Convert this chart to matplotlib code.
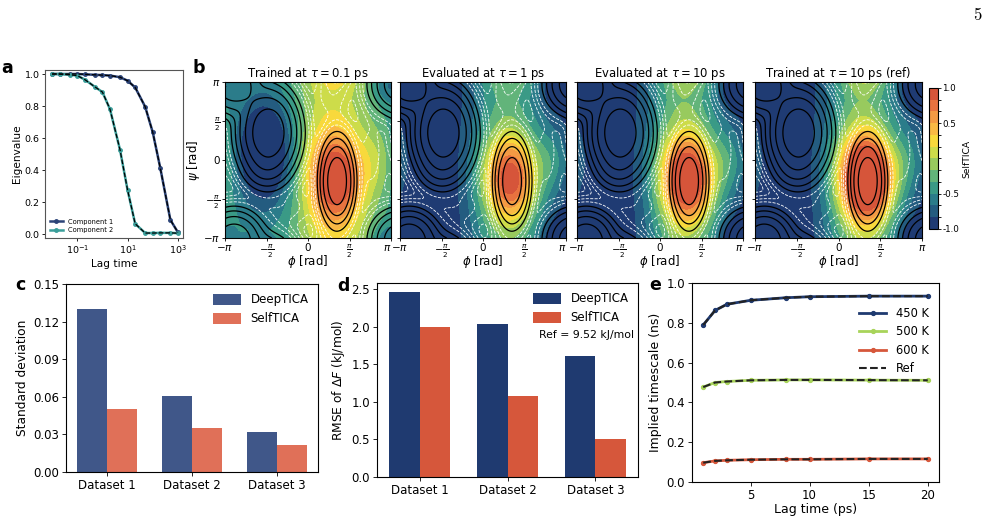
import numpy as np
import matplotlib
matplotlib.use("Agg")
import matplotlib.pyplot as plt
from matplotlib.colors import ListedColormap, BoundaryNorm

# ---------------- data ----------------
# panel a: eigenvalues vs lag time
lag_a = [0.01, 0.02, 0.05, 0.1, 0.2, 0.5, 1, 2, 5, 10, 20, 50, 100, 200, 500, 1000]
comp1 = [1.0, 1.0, 1.0, 1.0, 0.998, 0.995, 0.993, 0.99, 0.98, 0.958, 0.916, 0.795, 0.635, 0.41, 0.088, 0.01]
comp2 = [1.0, 1.0, 0.995, 0.99, 0.965, 0.92, 0.887, 0.78, 0.526, 0.274, 0.064, 0.006, 0.006, 0.007, 0.007, 0.005]

# panel b: free-energy surface (Gaussian wells) and SelfTICA fields (Gaussian bumps)
fe_phi = [-1.5, -2.8, -1.6, 1.1, 0.9, 2.4, -1.0]
fe_psi = [1.1, 3.05, -0.4, -0.85, 2.6, 0.2, -1.9]
fe_sphi = [0.5, 0.5, 0.45, 0.3, 0.4, 0.45, 0.7]
fe_spsi = [0.8, 0.55, 0.45, 0.8, 0.6, 1.6, 0.45]
fe_w = [1.0, 0.45, 0.05, 0.45, 0.004, 0.003, 0.004]
fe_eps = 2e-4

cv_phi = [1.05, 0.9, 2.7, -1.63, 3.0]
cv_psi = [-0.75, 0.0, 0.0, 0.3, 3.0]
cv_sphi = [0.75, 1.0, 0.5, 0.8, 0.4]
cv_spsi = [1.2, 10.0, 1.0, 1.6, 0.5]
cv_base = [-0.4, -1.0, -1.0, -1.0]
cv_amp_1 = [1.1, 0.5, 0.25, -0.9, -0.3]
cv_amp_2 = [1.3, 0.7, 0.35, 0.0, -0.5]
cv_amp_3 = [1.5, 0.8, 0.35, 0.0, -0.5]
cv_amp_4 = [1.9, 0.8, 0.3, 0.0, -0.5]
b_titles = [r"Trained at $\tau = 0.1$ ps", r"Evaluated at $\tau = 1$ ps",
            r"Evaluated at $\tau = 10$ ps", r"Trained at $\tau = 10$ ps (ref)"]

# panel c
datasets = ["Dataset 1", "Dataset 2", "Dataset 3"]
std_deep = [0.130, 0.061, 0.032]
std_self = [0.050, 0.0355, 0.0215]

# panel d
rmse_deep = [2.46, 2.035, 1.61]
rmse_self = [1.995, 1.077, 0.503]

# panel e
lag_e = [1, 2, 3, 5, 8, 10, 15, 20]
ts_450 = [0.789, 0.862, 0.893, 0.913, 0.926, 0.931, 0.934, 0.934]
ts_500 = [0.477, 0.500, 0.505, 0.511, 0.513, 0.513, 0.512, 0.511]
ts_600 = [0.097, 0.106, 0.109, 0.112, 0.114, 0.114, 0.116, 0.116]
ref_450 = [0.789, 0.862, 0.893, 0.913, 0.926, 0.931, 0.934, 0.934]
ref_500 = [0.477, 0.500, 0.505, 0.511, 0.513, 0.513, 0.512, 0.511]
ref_600 = [0.097, 0.106, 0.109, 0.112, 0.114, 0.114, 0.116, 0.116]

# ---------------- styling ----------------
NAVY = "#1f3a70"
RED = "#d6573b"
C_DEEP = "#405789"
C_SELF = "#e07058"
C_COMP1 = "#2c4478"
C_COMP2 = "#3a9e9a"
C_500 = "#a8d45a"
band_colors = ["#1f3b73", "#245c80", "#2b7c8a", "#3a9a86", "#62b47a", "#98ca5e",
               "#cddc4a", "#f8d93c", "#f9b944", "#f39a44", "#e8723f", "#d6553a"]

W, H = 996, 522
fig = plt.figure(figsize=(W / 100, H / 100), dpi=100)


def add_ax(x0, x1, y0, y1):
    return fig.add_axes([x0 / W, 1 - y1 / H, (x1 - x0) / W, (y1 - y0) / H])


# ---------------- panel a ----------------
axa = add_ax(45, 183, 70, 238)
axa.plot(lag_a, comp1, "-o", color=C_COMP1, lw=1.8, ms=2.5, label="Component 1")
axa.plot(lag_a, comp2, "-o", color=C_COMP2, lw=1.8, ms=2.5, label="Component 2")
axa.plot(lag_a, comp1, "--", color="black", lw=0.9)
axa.plot(lag_a, comp2, "--", color="black", lw=0.9)
axa.set_xscale("log")
axa.set_xlim(10 ** -2.28, 10 ** 3.2)
axa.set_ylim(-0.025, 1.025)
axa.set_xticks([0.1, 10, 1000])
axa.set_yticks([0, 0.2, 0.4, 0.6, 0.8, 1.0])
axa.tick_params(labelsize=6.8, length=2.5, width=0.6, pad=1.5)
axa.tick_params(which="minor", length=1.5, width=0.4)
axa.set_ylabel("Eigenvalue", fontsize=7.6, labelpad=2)
axa.set_xlabel("Lag time", fontsize=7.6, labelpad=2)
axa.legend(loc="lower left", fontsize=4.8, frameon=False, handlelength=2.0,
           borderaxespad=0.3, labelspacing=0.4)
for s in axa.spines.values():
    s.set_color("#555555")

# ---------------- panel b ----------------
grid = np.linspace(-np.pi, np.pi, 241)
PHI, PSI = np.meshgrid(grid, grid)


def wrap(d):
    return (d + np.pi) % (2 * np.pi) - np.pi


def gauss(cp, cs, sp, ss):
    return np.exp(-0.5 * (wrap(PHI - cp) / sp) ** 2 - 0.5 * (wrap(PSI - cs) / ss) ** 2)


prob = sum(w * gauss(a, b, c, d) for a, b, c, d, w in zip(fe_phi, fe_psi, fe_sphi, fe_spsi, fe_w))
F = -np.log(prob + fe_eps)
F -= F.min()

cmap = ListedColormap(band_colors)
levels = np.linspace(-1, 1, 13)
norm = BoundaryNorm(levels, cmap.N)

b_x = [(225, 391), (400, 566), (577, 743), (755, 922)]
amps = [cv_amp_1, cv_amp_2, cv_amp_3, cv_amp_4]
pi_ticks = [-np.pi, -np.pi / 2, 0, np.pi / 2, np.pi]
pi_labels = [r"$-\pi$", r"$-\frac{\pi}{2}$", "0", r"$\frac{\pi}{2}$", r"$\pi$"]
cs = None
for i in range(4):
    ax = add_ax(b_x[i][0], b_x[i][1], 82, 238)
    field = cv_base[i] + sum(a * gauss(p, q, r, s) for a, p, q, r, s in
                             zip(amps[i], cv_phi, cv_psi, cv_sphi, cv_spsi))
    field = np.clip(field, -0.999, 0.999)
    cs = ax.contourf(PHI, PSI, field, levels=levels, cmap=cmap, norm=norm)
    ax.contour(PHI, PSI, F, levels=[4.7, 5.3, 5.9, 6.5, 7.1, 7.7], colors="white",
               linewidths=0.6, linestyles="--")
    ax.contour(PHI, PSI, F, levels=[0.7, 1.5, 2.3, 3.1, 3.9], colors="black",
               linewidths=0.9, linestyles="-")
    ax.set_xlim(-np.pi, np.pi)
    ax.set_ylim(-np.pi, np.pi)
    ax.set_xticks(pi_ticks)
    ax.set_xticklabels(pi_labels)
    if i < 3:
        ax.get_xticklabels()[-1].set_horizontalalignment("right")
    ax.set_yticks(pi_ticks)
    if i == 0:
        ax.set_yticklabels(pi_labels)
        ax.set_ylabel(r"$\psi$ [rad]", fontsize=8.5, labelpad=1)
    else:
        ax.set_yticklabels([])
    ax.tick_params(labelsize=7.5, length=2, width=0.6, pad=1.5)
    ax.set_xlabel(r"$\phi$ [rad]", fontsize=8.5, labelpad=-5)
    ax.set_title(b_titles[i], fontsize=8.4, pad=3)

cax = add_ax(929, 938, 88, 229)
cb = fig.colorbar(cs, cax=cax, ticks=[1.0, 0.5, -0.5, -1.0])
cb.ax.set_yticklabels(["1.0", "0.5", "-0.5", "-1.0"])
cb.ax.tick_params(labelsize=6.3, length=2, width=0.6, pad=1)
cb.set_label("SelfTICA", fontsize=6.6, labelpad=2)

# ---------------- panel c ----------------
x = np.arange(len(datasets))
bw = 0.35
axc = add_ax(66, 318, 284, 472)
axc.bar(x - bw / 2, std_deep, bw, color=C_DEEP, label="DeepTICA")
axc.bar(x + bw / 2, std_self, bw, color=C_SELF, label="SelfTICA")
axc.set_ylim(0, 0.15)
axc.set_yticks([0.0, 0.03, 0.06, 0.09, 0.12, 0.15])
axc.set_yticklabels(["0.00", "0.03", "0.06", "0.09", "0.12", "0.15"])
axc.set_xticks(x)
axc.set_xticklabels(datasets)
axc.tick_params(labelsize=8.5, length=3, width=0.6, pad=2)
axc.set_ylabel("Standard deviation", fontsize=8.8, labelpad=3)
axc.legend(loc="upper right", fontsize=8.5, frameon=False, handlelength=2.4,
           handleheight=1.0, borderaxespad=0.4)

# ---------------- panel d ----------------
axd = add_ax(377, 638, 283, 477)
axd.bar(x - bw / 2, rmse_deep, bw, color=NAVY, label="DeepTICA")
axd.bar(x + bw / 2, rmse_self, bw, color=RED, label="SelfTICA")
axd.set_xticks(x)
axd.set_xticklabels(datasets)
axd.set_yticks([0.0, 0.5, 1.0, 1.5, 2.0, 2.5])
axd.tick_params(labelsize=8.5, length=3, width=0.6, pad=2)
axd.set_ylabel(r"RMSE of $\Delta F$ (kJ/mol)", fontsize=8.8, labelpad=3)
axd.legend(loc="upper right", fontsize=8.5, frameon=False, handlelength=2.4,
           handleheight=1.0, borderaxespad=0.4)
axd.text(0.985, 0.73, "Ref = 9.52 kJ/mol", transform=axd.transAxes,
         ha="right", va="center", fontsize=7.8)

# ---------------- panel e ----------------
axe = add_ax(692, 939, 283, 482)
axe.plot(lag_e, ts_450, "-o", color=NAVY, lw=2.0, ms=2.8, label="450 K")
axe.plot(lag_e, ts_500, "-o", color=C_500, lw=2.0, ms=2.8, label="500 K")
axe.plot(lag_e, ts_600, "-o", color=RED, lw=2.0, ms=2.8, label="600 K")
axe.plot(lag_e, ref_450, "--", color="#222222", lw=1.5, label="Ref")
axe.plot(lag_e, ref_500, "--", color="#222222", lw=1.5)
axe.plot(lag_e, ref_600, "--", color="#222222", lw=1.5)
axe.set_ylim(0, 1.0)
axe.set_xticks([5, 10, 15, 20])
axe.set_yticks([0.0, 0.2, 0.4, 0.6, 0.8, 1.0])
axe.tick_params(labelsize=8.5, length=3, width=0.6, pad=2)
axe.set_ylabel("Implied timescale (ns)", fontsize=9, labelpad=3)
axe.set_xlabel("Lag time (ps)", fontsize=9, labelpad=1)
axe.legend(loc="upper right", bbox_to_anchor=(1.0, 0.93), fontsize=8.3,
           frameon=False, handlelength=2.4, labelspacing=0.45)

# ---------------- panel letters & page number ----------------
for letter, (px, py) in zip("abcde", [(7, 68), (199, 68), (20, 285), (343, 286), (655, 285)]):
    fig.text(px / W, 1 - py / H, letter, fontsize=12.5, fontweight="bold",
             ha="center", va="center")
fig.text(978 / W, 1 - 15 / H, r"$5$", fontsize=12, ha="center", va="center",
         math_fontfamily="cm")

fig.savefig("out.png", dpi=100)
